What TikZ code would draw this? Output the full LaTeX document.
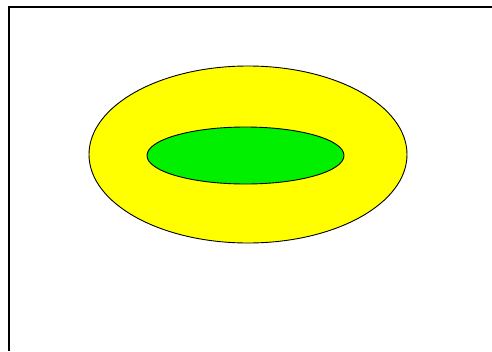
\documentclass[tikz,border=0pt]{standalone}
\usepackage{tikz}
\usetikzlibrary{calc}
\usepackage{xcolor}
\definecolor{ringyellow}{RGB}{255,255,0}
\definecolor{coregreen}{RGB}{0,240,0}

\begin{document}
\begin{tikzpicture}[x=1pt,y=-1pt,
  region/.style={draw=black,line width=0.9pt}]
\useasboundingbox (0,0) rectangle (492,351);
% frame, cut off at the right and the bottom
\draw[line width=2.2pt] (9,351) -- (9,7) -- (492,7);
% outer and inner region
\filldraw[region,fill=ringyellow] (248,154.5) ellipse [x radius=159,y radius=88.5];
\filldraw[region,fill=coregreen] (245.5,155.5) ellipse [x radius=98.5,y radius=28.5];
\end{tikzpicture}
\end{document}
